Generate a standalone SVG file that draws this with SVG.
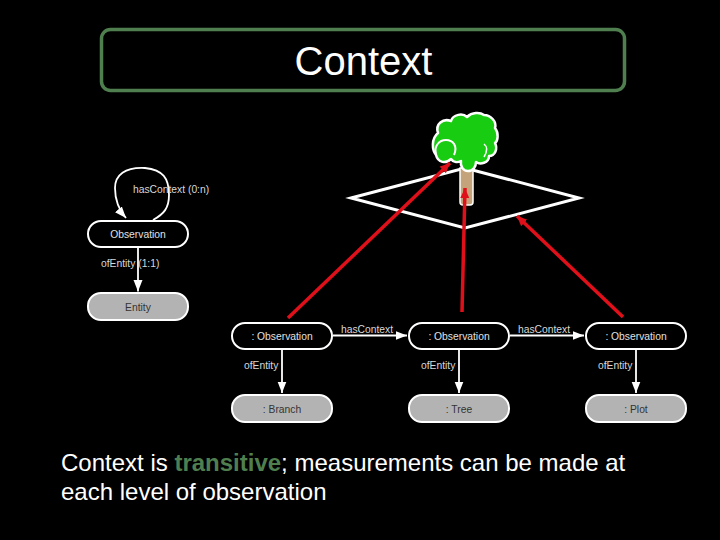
<svg xmlns="http://www.w3.org/2000/svg" width="720" height="540" viewBox="0 0 720 540">
<style>
text{font-family:"Liberation Sans",Arial,sans-serif}
.n rect{stroke:#fff;stroke-width:2}
.o rect{fill:#000}
.e rect{fill:#b3b3b3}
.n text{font-size:10.300px;text-anchor:middle}
.o text{fill:#e0e0e0}
.e text{fill:#333}
.l{font-size:10.300px;fill:#d8d8d8}
.c{fill:none;stroke:#fff;stroke-width:1.800}
.r{stroke:#e0101a;stroke-width:3.500;fill:none}
.b{font-size:24px;fill:#fff}
</style>
<defs>
<marker id="w" markerUnits="userSpaceOnUse" markerWidth="13" markerHeight="10" refX="11.500" refY="4.500" orient="auto"><path d="M0 0L11.500 4.500L0 9Z" fill="#fff"/></marker>
<marker id="a" markerUnits="userSpaceOnUse" markerWidth="12" markerHeight="10" refX="10" refY="4.500" orient="auto"><path d="M0 0L10 4.500L0 9Z" fill="#e0101a"/></marker>
</defs>
<rect width="720" height="540" fill="#000"/>
<g id="title"><rect x="101.500" y="29.500" width="523" height="61" rx="9" fill="#000" stroke="#4f7f4f" stroke-width="3.500"/>
<text x="363.500" y="75" font-size="40" fill="#fff" text-anchor="middle">Context</text></g>
<g id="plot-shape"><path d="M351 198L465 168L579 198L465 228Z" fill="none" stroke="#fff" stroke-width="3"/></g>
<g id="tree">
<path d="M460 168h13v34a3 3 0 0 1-3 3h-7a3 3 0 0 1-3-3Z" fill="#c4a37a" stroke="#fff" stroke-width="1.500"/>
<path d="M438 133C435 124 443 118 451 121C453 114 463 113 467 117C472 112 480 112 484 115C491 115 497 122 495 128C499 133 498 141 495 143C498 149 495 156 489 156C489 163 480 165 476 162C476 167 473 171 468 171C463 171 460 166 461 161C457 163 453 162 451 159C446 164 438 163 436 155C432 150 431 139 438 133Z" fill="#18cc12" stroke="#fff" stroke-width="2.500" stroke-linejoin="round"/>
<path d="M454 155C458 146 453 140 446 140C439 140 434 146 436 154" fill="none" stroke="#fff" stroke-width="2"/>
<path d="M484 144C488 147 487 152 484 157" fill="none" stroke="#fff" stroke-width="1.500"/>
</g>
<g id="connectors">
<path class="c" d="M153 220C164 214 169 208 169 195C169 178 163 170 145 168C125 167 115 175 115 188C115 200 119 210 126 218" marker-end="url(#w)"/>
<path class="c" d="M138 247V291.500" marker-end="url(#w)"/>
<path class="c" d="M282 349V393" marker-end="url(#w)"/>
<path class="c" d="M459 349V393" marker-end="url(#w)"/>
<path class="c" d="M636 349V393" marker-end="url(#w)"/>
<path class="c" d="M333 335.500H407" marker-end="url(#w)"/>
<path class="c" d="M510 335.500H584" marker-end="url(#w)"/>
<path class="r" d="M288 318L450 163" marker-end="url(#a)"/>
<path class="r" d="M462 312L465 188" marker-end="url(#a)"/>
<path class="r" d="M623 317L517 216" marker-end="url(#a)"/>
<text class="l" x="133" y="193">hasContext (0:n)</text>
<text class="l" x="101" y="267">ofEntity (1:1)</text>
<text class="l" x="341" y="333">hasContext</text>
<text class="l" x="518" y="333">hasContext</text>
<text class="l" x="244" y="369">ofEntity</text>
<text class="l" x="421" y="369">ofEntity</text>
<text class="l" x="598" y="369">ofEntity</text>
</g>
<g id="obs-0" class="n o"><rect x="88" y="221" width="100" height="26" rx="13"/><text x="138" y="238">Observation</text></g>
<g id="entity" class="n e"><rect x="88" y="293" width="100" height="27" rx="13"/><text x="138" y="311">Entity</text></g>
<g id="obs-1" class="n o"><rect x="232" y="323" width="100" height="26" rx="13"/><text x="282" y="340">: Observation</text></g>
<g id="obs-2" class="n o"><rect x="409" y="323" width="100" height="26" rx="13"/><text x="459" y="340">: Observation</text></g>
<g id="obs-3" class="n o"><rect x="586" y="323" width="100" height="26" rx="13"/><text x="636" y="340">: Observation</text></g>
<g id="branch" class="n e"><rect x="232" y="395" width="100" height="27" rx="13"/><text x="282" y="413">: Branch</text></g>
<g id="tree-node" class="n e"><rect x="409" y="395" width="100" height="27" rx="13"/><text x="459" y="413">: Tree</text></g>
<g id="plot" class="n e"><rect x="586" y="395" width="100" height="27" rx="13"/><text x="636" y="413">: Plot</text></g>
<g id="body"><text class="b" x="61" y="471">Context is <tspan fill="#4f7f4f" font-weight="bold">transitive</tspan>; measurements can be made at</text>
<text class="b" x="61" y="500">each level of observation</text></g>
</svg>
